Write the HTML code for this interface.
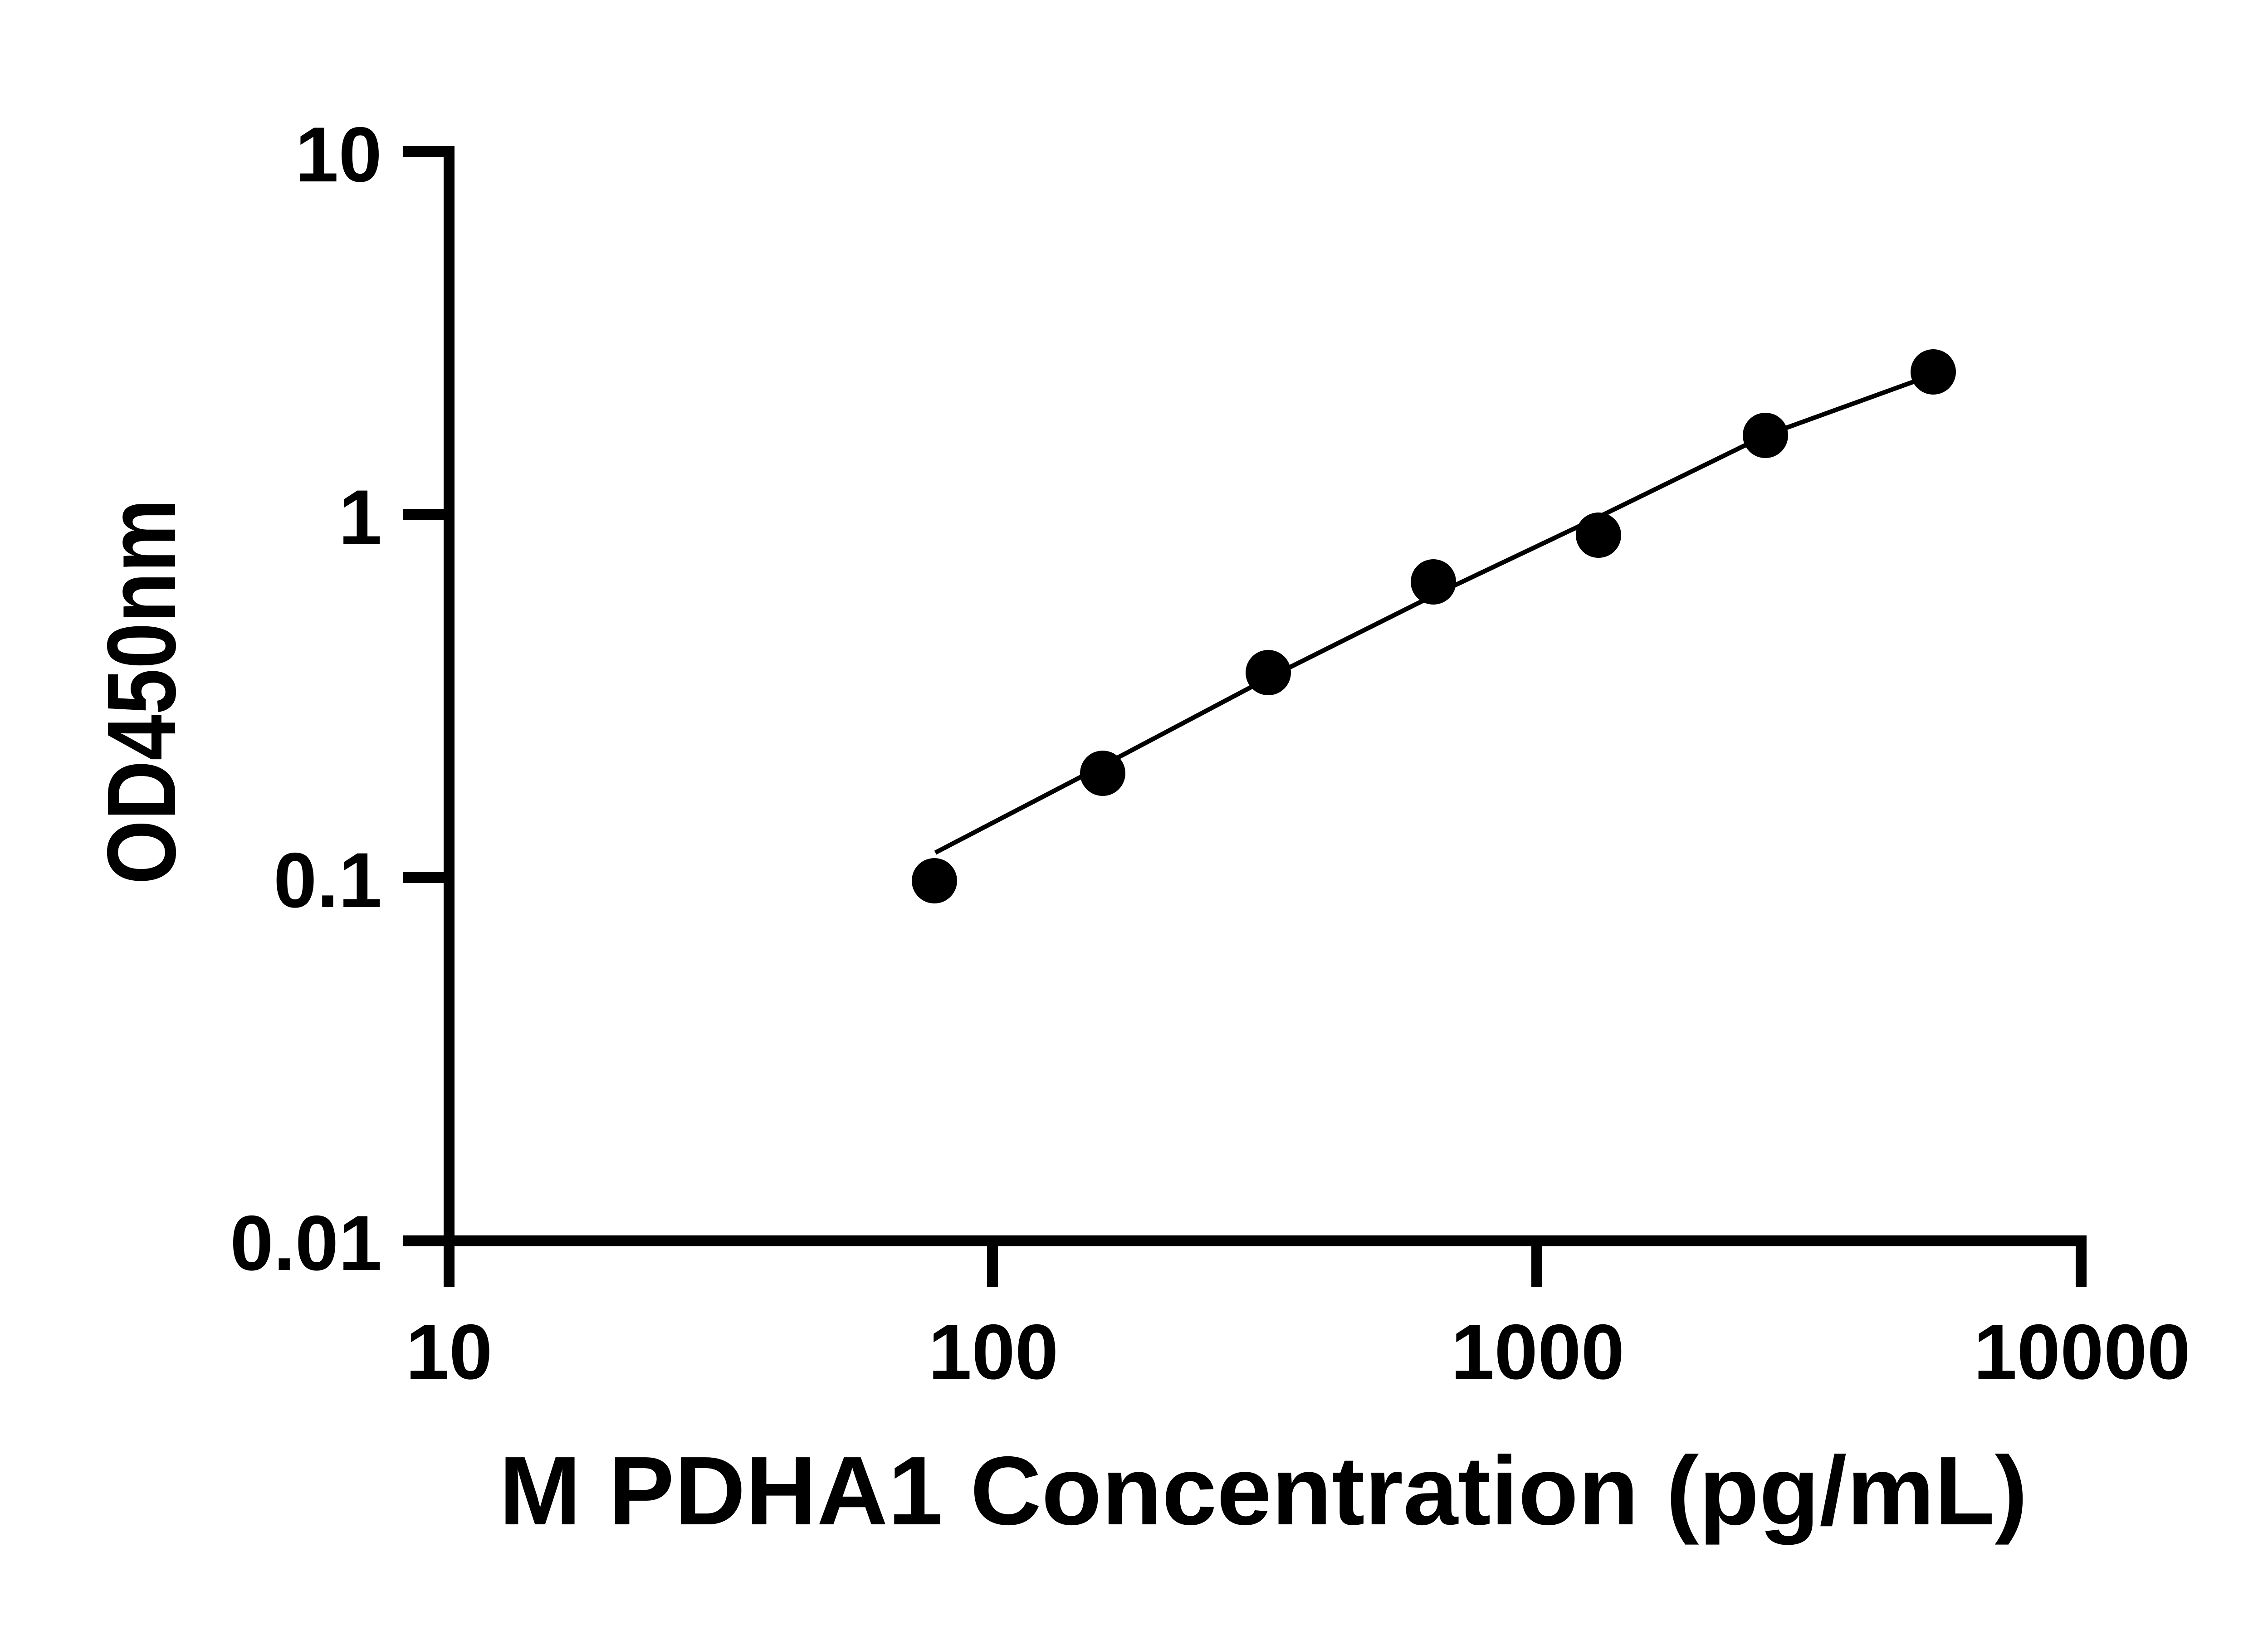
<!DOCTYPE html>
<html><head><style>html,body{margin:0;padding:0;background:#fff}</style></head><body>
<svg width="5142" height="3600" viewBox="0 0 5142 3600" xmlns="http://www.w3.org/2000/svg">
<rect width="5142" height="3600" fill="#fff"/>
<g stroke="#000" fill="none">
<line x1="990" y1="322" x2="990" y2="2838" stroke-width="24"/>
<line x1="888" y1="2736" x2="4600" y2="2736" stroke-width="24"/>
<g stroke-width="24">
<line x1="888" y1="334" x2="990" y2="334"/>
<line x1="888" y1="1134" x2="990" y2="1134"/>
<line x1="888" y1="1935" x2="990" y2="1935"/>
<line x1="2188" y1="2736" x2="2188" y2="2838"/>
<line x1="3388" y1="2736" x2="3388" y2="2838"/>
<line x1="4588" y1="2736" x2="4588" y2="2838"/>
</g>
<polyline points="2062,1880 2431,1688 2796,1495 3160,1313 3524,1140 3892,960 4262,826" stroke-width="10"/>
</g>
<g fill="#000">
<circle cx="2060" cy="1942" r="50"/>
<circle cx="2431" cy="1705" r="50"/>
<circle cx="2796" cy="1483" r="50"/>
<circle cx="3160" cy="1283" r="50"/>
<circle cx="3524" cy="1180" r="50"/>
<circle cx="3892" cy="960" r="50"/>
<circle cx="4262" cy="820" r="50"/>
</g>
<g font-family="Liberation Sans, sans-serif" font-weight="bold" font-size="172" fill="#000">
<g text-anchor="end">
<text x="842" y="400">10</text>
<text x="842" y="1200">1</text>
<text x="842" y="2000">0.1</text>
<text x="842" y="2800">0.01</text>
</g>
<g text-anchor="middle">
<text x="990" y="3040">10</text>
<text x="2190" y="3040">100</text>
<text x="3390" y="3040">1000</text>
<text x="4590" y="3040">10000</text>
</g>
<text x="1100" y="3361" font-size="215" textLength="3370" lengthAdjust="spacingAndGlyphs">M PDHA1 Concentration (pg/mL)</text>
<text transform="translate(386,1950) rotate(-90)" font-size="215" textLength="850" lengthAdjust="spacingAndGlyphs">OD450nm</text>
</g>
</svg>
</body></html>
